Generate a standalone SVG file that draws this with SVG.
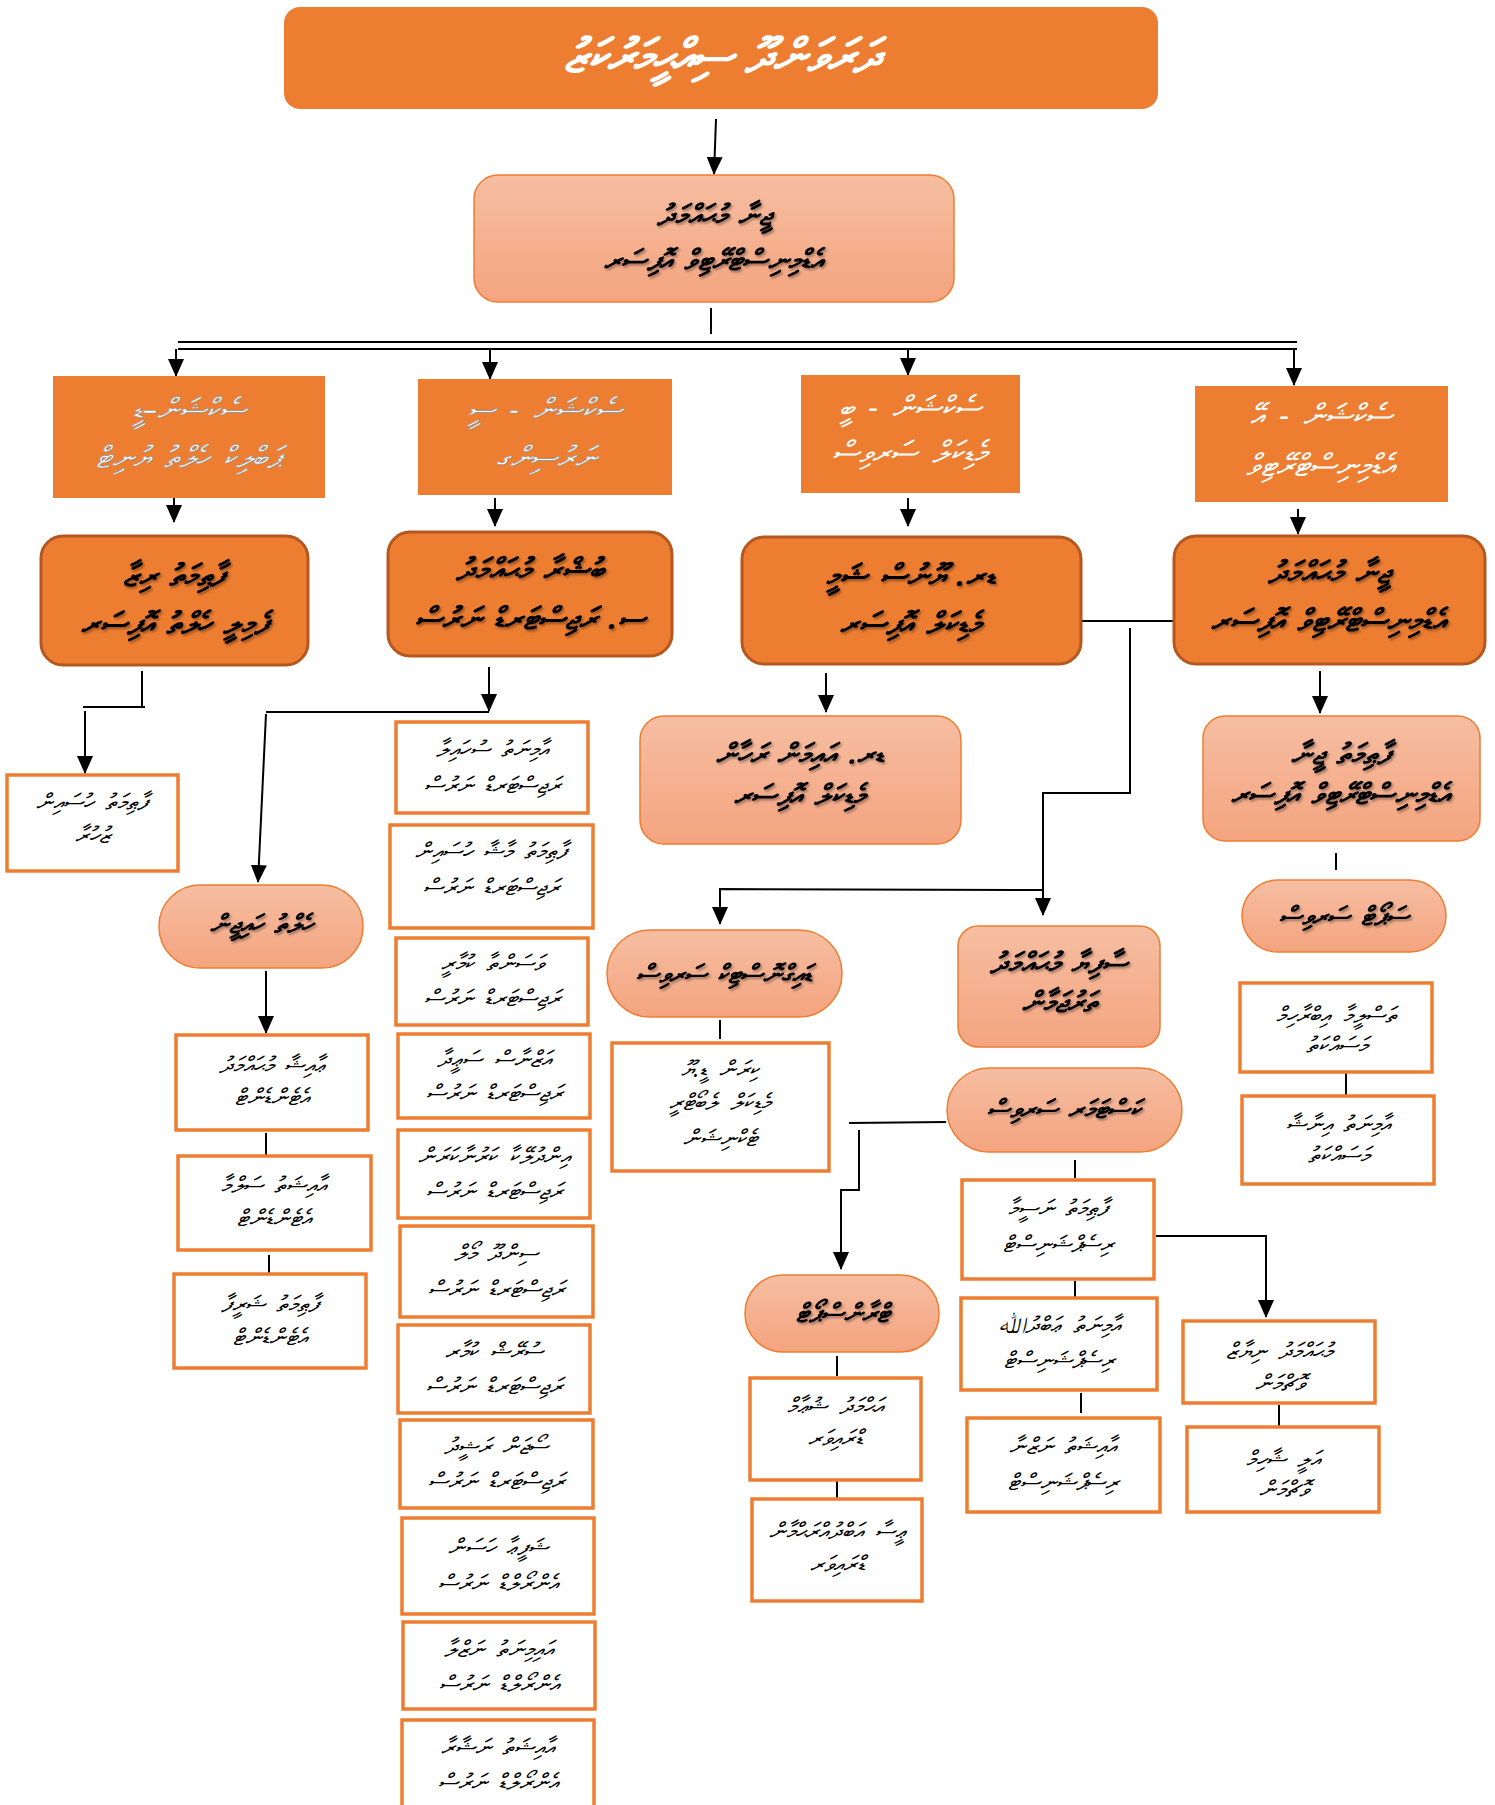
<svg xmlns="http://www.w3.org/2000/svg" width="1495" height="1805" viewBox="0 0 1495 1805">
<defs>
<linearGradient id="lg" x1="0" y1="0" x2="0" y2="1"><stop offset="0" stop-color="#F6BEA2"/><stop offset="1" stop-color="#F4A47F"/></linearGradient>
<marker id="ah" markerWidth="18" markerHeight="16" refX="17" refY="8" orient="auto" markerUnits="userSpaceOnUse" viewBox="0 0 18 16"><path d="M0,0 L18,8 L0,16 Z" fill="#000"/></marker>
<filter id="sh" x="-5%" y="-20%" width="110%" height="140%"><feDropShadow dx="1.5" dy="2" stdDeviation="1" flood-color="#000" flood-opacity="0.35"/></filter>
</defs>
<style>
text{font-family:"Noto Sans","DejaVu Sans",sans-serif;text-anchor:middle;direction:rtl;font-style:italic}
.t0{fill:#fff;font-size:47px;font-weight:bold}
.th{fill:#fff;font-size:31px;stroke:#8a8a8a;stroke-width:0.6;word-spacing:6px}
.thw{fill:#fff;font-size:31px;word-spacing:6px}
.td{fill:#000;font-size:31px;font-weight:bold;filter:url(#sh);word-spacing:4px}
.tl{fill:#000;font-size:29px;font-weight:bold;filter:url(#sh);word-spacing:4px}
.tp{fill:#000;font-size:26px;font-weight:bold;filter:url(#sh);word-spacing:4px}
.ts{fill:#000;font-size:23px;word-spacing:6px}
.orange{fill:#ED7D31}
.dark{fill:#ED7D31;stroke:#B5581F;stroke-width:3}
.light{fill:url(#lg);stroke:#ED7D31;stroke-width:1.5}
.box{fill:#fff;stroke:#ED7D31;stroke-width:3.5}
.c{fill:none;stroke:#000;stroke-width:2}
</style>

<g id="connectors">
<path class="c" d="M716,119 L714,174" marker-end="url(#ah)"/>
<path class="c" d="M711,308 L711,334"/>
<path class="c" d="M178,342 L1297,342"/>
<path class="c" d="M178,349 L1297,349"/>
<path class="c" d="M176,349 L176,376" marker-end="url(#ah)"/>
<path class="c" d="M490,349 L490,379" marker-end="url(#ah)"/>
<path class="c" d="M908,349 L908,375" marker-end="url(#ah)"/>
<path class="c" d="M1294,349 L1294,385" marker-end="url(#ah)"/>
<path class="c" d="M174,498 L174,522" marker-end="url(#ah)"/>
<path class="c" d="M495,498 L495,526" marker-end="url(#ah)"/>
<path class="c" d="M908,498 L908,526" marker-end="url(#ah)"/>
<path class="c" d="M1298,509 L1298,534" marker-end="url(#ah)"/>
<path class="c" d="M1081,621 L1174,621"/>
<path class="c" d="M1130,628 L1130,793 L1043,793 L1043,915" marker-end="url(#ah)"/>
<path class="c" d="M1043,890 L720,889 L720,924" marker-end="url(#ah)"/>
<path class="c" d="M826,673 L826,712" marker-end="url(#ah)"/>
<path class="c" d="M720,1020 L720,1039"/>
<path class="c" d="M946,1122 L849,1123"/>
<path class="c" d="M859,1130 L859,1190 L841,1190 L841,1269" marker-end="url(#ah)"/>
<path class="c" d="M837,1356 L837,1376"/>
<path class="c" d="M837,1481 L837,1499"/>
<path class="c" d="M1075,1160 L1075,1178"/>
<path class="c" d="M1075,1281 L1075,1298"/>
<path class="c" d="M1081,1393 L1081,1413"/>
<path class="c" d="M1156,1236 L1266,1236 L1266,1317" marker-end="url(#ah)"/>
<path class="c" d="M1279,1405 L1279,1427"/>
<path class="c" d="M1320,671 L1320,713" marker-end="url(#ah)"/>
<path class="c" d="M1336,853 L1336,870"/>
<path class="c" d="M1346,1072 L1346,1095"/>
<path class="c" d="M142,671 L142,707"/>
<path class="c" d="M83,707 L145,707"/>
<path class="c" d="M85,711 L85,773" marker-end="url(#ah)"/>
<path class="c" d="M489,667 L489,711" marker-end="url(#ah)"/>
<path class="c" d="M266,712 L489,712"/>
<path class="c" d="M266,714 L258,882" marker-end="url(#ah)"/>
<path class="c" d="M266,971 L266,1033" marker-end="url(#ah)"/>
<path class="c" d="M266,1133 L266,1155"/>
<path class="c" d="M269,1255 L269,1273"/>
</g>

<g id="n-title"><rect class="orange" x="284" y="7" width="874" height="102" rx="16"/><text class="t0" x="721" y="72">ދަރަވަންދޫ ސިއްޙީމަރުކަޒު</text></g>

<g id="n-l2"><rect class="light" x="474" y="175" width="480" height="127" rx="24"/><text class="tl" x="714" y="225">ޖީނާ މުޙައްމަދު</text><text class="tl" x="714" y="270">އެޑްމިނިސްޓްރޭޓިވް އޮފިސަރ</text></g>

<g id="n-h1"><rect class="orange" x="53" y="376" width="272" height="122"/><text class="th" x="189" y="420">ސެކްޝަން–ޑީ</text><text class="th" x="189" y="468">ޕަބްލިކް ހެލްތު ޔުނިޓް</text></g>
<g id="n-h2"><rect class="orange" x="418" y="379" width="254" height="116"/><text class="th" x="545" y="420">ސެކްޝަން - ސީ</text><text class="th" x="545" y="468">ނަރުސިންގ</text></g>
<g id="n-h3"><rect class="orange" x="801" y="375" width="219" height="118"/><text class="thw" x="910" y="418">ސެކްޝަން - ބީ</text><text class="thw" x="910" y="463">މެޑިކަލް ސަރވިސް</text></g>
<g id="n-h4"><rect class="orange" x="1195" y="386" width="253" height="116"/><text class="thw" x="1321" y="426">ސެކްޝަން - އޭ</text><text class="thw" x="1321" y="476">އެޑްމިނިސްޓްރޭޓިވް</text></g>

<g id="n-d1"><rect class="dark" x="41" y="536" width="267" height="129" rx="22"/><text class="td" x="174" y="586">ފާޠިމަތު ރިޒާ</text><text class="td" x="174" y="634">ފެމިލީ ހެލްތު އޮފިސަރ</text></g>
<g id="n-d2"><rect class="dark" x="388" y="532" width="284" height="124" rx="22"/><text class="td" x="530" y="580">ބުޝްރާ މުޙައްމަދު</text><text class="td" x="530" y="629">ސ. ރަޖިސްޓަރޑް ނަރުސް</text></g>
<g id="n-d3"><rect class="dark" x="742" y="537" width="339" height="127" rx="22"/><text class="td" x="911" y="586">ޑރ. ޔޫނުސް ޝަމީ</text><text class="td" x="911" y="634">މެޑިކަލް އޮފިސަރ</text></g>
<g id="n-d4"><rect class="dark" x="1174" y="536" width="311" height="128" rx="22"/><text class="td" x="1329" y="583">ޖީނާ މުޙައްމަދު</text><text class="td" x="1329" y="631">އެޑްމިނިސްޓްރޭޓިވް އޮފިސަރ</text></g>

<g id="n-l3"><rect class="light" x="640" y="716" width="321" height="128" rx="24"/><text class="tl" x="800" y="764">ޑރ. އައިމަން ރަހާން</text><text class="tl" x="800" y="805">މެޑިކަލް އޮފިސަރ</text></g>
<g id="n-diag"><rect class="light" x="607" y="930" width="235" height="87" rx="43"/><text class="tp" x="724" y="983">ޑައިގްނޮސްޓިކް ސަރވިސް</text></g>
<g id="n-kiran"><rect class="box" x="612" y="1043" width="217" height="128"/><text class="ts" x="720" y="1077">ކިރަން ޑީ.ޔޫ</text><text class="ts" x="720" y="1110">މެޑިކަލް ލެބޯޓްރީ</text><text class="ts" x="720" y="1146">ޓެކްނިޝަން</text></g>
<g id="n-saafiya"><rect class="light" x="958" y="926" width="202" height="121" rx="20"/><text class="tl" x="1059" y="973">ސާފިޔާ މުޙައްމަދު</text><text class="tl" x="1059" y="1012">ތަރުޖަމާން</text></g>
<g id="n-customer"><rect class="light" x="947" y="1068" width="235" height="84" rx="42"/><text class="tp" x="1064" y="1118">ކަސްޓަމަރ ސަރވިސް</text></g>
<g id="n-naseema"><rect class="box" x="962" y="1180" width="192" height="99"/><text class="ts" x="1058" y="1216">ފާޠިމަތު ނަސީމާ</text><text class="ts" x="1058" y="1252">ރިސެޕްޝަނިސްޓް</text></g>
<g id="n-aminatha"><rect class="box" x="961" y="1298" width="196" height="92"/><text class="ts" x="1059" y="1333">އާމިނަތު ޢަބްދުﷲ</text><text class="ts" x="1059" y="1368">ރިސެޕްޝަނިސްޓް</text></g>
<g id="n-aishathn"><rect class="box" x="967" y="1418" width="193" height="94"/><text class="ts" x="1063" y="1454">އާއިޝަތު ނަޒްނާ</text><text class="ts" x="1063" y="1490">ރިސެޕްޝަނިސްޓް</text></g>
<g id="n-transport"><rect class="light" x="745" y="1275" width="194" height="77" rx="38"/><text class="tp" x="842" y="1322">ޓްރާންސްޕޯޓް</text></g>
<g id="n-ahmed"><rect class="box" x="750" y="1378" width="171" height="102"/><text class="ts" x="835" y="1414">އަޙްމަދު ޝުޢާމް</text><text class="ts" x="835" y="1446">ޑްރައިވަރ</text></g>
<g id="n-eesa"><rect class="box" x="752" y="1499" width="170" height="102"/><text class="ts" x="837" y="1539">ޢީސާ އަބްދުއްރަޙްމާން</text><text class="ts" x="837" y="1572">ޑްރައިވަރ</text></g>
<g id="n-niyaz"><rect class="box" x="1183" y="1321" width="192" height="82"/><text class="ts" x="1279" y="1359">މުޙައްމަދު ނިޔާޒް</text><text class="ts" x="1279" y="1391">ވޮޗްމަން</text></g>
<g id="n-ali"><rect class="box" x="1187" y="1427" width="192" height="85"/><text class="ts" x="1283" y="1467">އަލީ ޝާހިމް</text><text class="ts" x="1283" y="1497">ވޮޗްމަން</text></g>

<g id="n-jeena"><rect class="light" x="1203" y="716" width="277" height="125" rx="22"/><text class="tl" x="1341" y="764">ފާޠިމަތު ޖީނާ</text><text class="tl" x="1341" y="804">އެޑްމިނިސްޓްރޭޓިވް އޮފިސަރ</text></g>
<g id="n-support"><rect class="light" x="1242" y="880" width="204" height="72" rx="36"/><text class="tp" x="1344" y="925">ސަޕޯޓް ސަރވިސް</text></g>
<g id="n-thasleema"><rect class="box" x="1240" y="983" width="192" height="89"/><text class="ts" x="1336" y="1023">ތަސްލީމާ އިބްރާހިމް</text><text class="ts" x="1336" y="1053">މަސައްކަތު</text></g>
<g id="n-aminathi"><rect class="box" x="1242" y="1096" width="192" height="88"/><text class="ts" x="1338" y="1132">އާމިނަތު އިނާޝާ</text><text class="ts" x="1338" y="1163">މަސައްކަތު</text></g>

<g id="n-fhussain"><rect class="box" x="7" y="775" width="171" height="96"/><text class="ts" x="92" y="810">ފާޠިމަތު ހުސައިން</text><text class="ts" x="92" y="843">ޒުހުރާ</text></g>
<g id="n-health"><rect class="light" x="159" y="885" width="204" height="83" rx="41"/><text class="tp" x="261" y="933">ހެލްތު ހައިޖީން</text></g>
<g id="n-aaisha"><rect class="box" x="176" y="1035" width="192" height="95"/><text class="ts" x="272" y="1073">ޢާއިޝާ މުޙައްމަދު</text><text class="ts" x="272" y="1105">އެޓެންޑެންޓް</text></g>
<g id="n-aishaths"><rect class="box" x="178" y="1156" width="193" height="94"/><text class="ts" x="274" y="1193">އާއިޝަތު ސަލްމާ</text><text class="ts" x="274" y="1226">އެޓެންޑެންޓް</text></g>
<g id="n-shareefa"><rect class="box" x="174" y="1274" width="192" height="94"/><text class="ts" x="270" y="1312">ފާޠިމަތު ޝަރީފާ</text><text class="ts" x="270" y="1345">އެޓެންޑެންޓް</text></g>

<g id="n-nurse1"><rect class="box" x="396" y="722" width="192" height="91"/><text class="ts" x="492" y="757">އާމިނަތު ސުހައިލާ</text><text class="ts" x="492" y="793">ރަޖިސްޓަރޑް ނަރުސް</text></g>
<g id="n-nurse2"><rect class="box" x="390" y="825" width="203" height="103"/><text class="ts" x="491" y="859">ފާޠިމަތު މާޝާ ހުސައިން</text><text class="ts" x="491" y="895">ރަޖިސްޓަރޑް ނަރުސް</text></g>
<g id="n-nurse3"><rect class="box" x="396" y="938" width="192" height="87"/><text class="ts" x="492" y="971">ވަސަންތާ ކުމާރީ</text><text class="ts" x="492" y="1006">ރަޖިސްޓަރޑް ނަރުސް</text></g>
<g id="n-nurse4"><rect class="box" x="398" y="1034" width="192" height="84"/><text class="ts" x="494" y="1067">އަޒްނާސް ސަޢީދާ</text><text class="ts" x="494" y="1101">ރަޖިސްޓަރޑް ނަރުސް</text></g>
<g id="n-nurse5"><rect class="box" x="398" y="1130" width="192" height="88"/><text class="ts" x="494" y="1164">އިންދުލޭކާ ކަރުނާކަރަން</text><text class="ts" x="494" y="1199">ރަޖިސްޓަރޑް ނަރުސް</text></g>
<g id="n-nurse6"><rect class="box" x="400" y="1226" width="193" height="91"/><text class="ts" x="496" y="1261">ސިންދޫ މޯލް</text><text class="ts" x="496" y="1297">ރަޖިސްޓަރޑް ނަރުސް</text></g>
<g id="n-nurse7"><rect class="box" x="398" y="1325" width="192" height="88"/><text class="ts" x="494" y="1359">ސުރޭޝް ކުމާރ</text><text class="ts" x="494" y="1394">ރަޖިސްޓަރޑް ނަރުސް</text></g>
<g id="n-nurse8"><rect class="box" x="400" y="1420" width="193" height="88"/><text class="ts" x="496" y="1454">ސޯޖަން ރަޝީދު</text><text class="ts" x="496" y="1489">ރަޖިސްޓަރޑް ނަރުސް</text></g>
<g id="n-nurse9"><rect class="box" x="402" y="1518" width="192" height="96"/><text class="ts" x="498" y="1555">ޝަފީޢާ ހަސަން</text><text class="ts" x="498" y="1591">އެންރޯލްޑް ނަރުސް</text></g>
<g id="n-nurse10"><rect class="box" x="403" y="1622" width="192" height="87"/><text class="ts" x="499" y="1657">އައިމިނަތު ނަޒްލާ</text><text class="ts" x="499" y="1692">އެންރޯލްޑް ނަރުސް</text></g>
<g id="n-nurse11"><rect class="box" x="402" y="1720" width="192" height="100"/><text class="ts" x="498" y="1755">އާއިޝަތު ނަޝާރާ</text><text class="ts" x="498" y="1790">އެންރޯލްޑް ނަރުސް</text></g>
</svg>
